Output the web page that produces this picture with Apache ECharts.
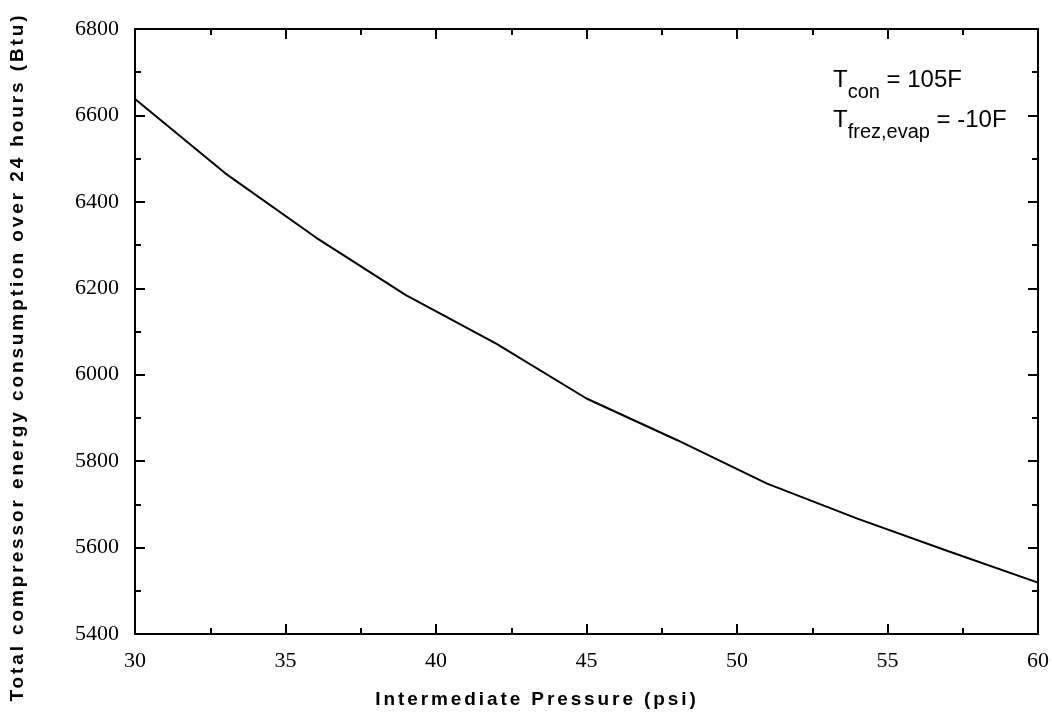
<!DOCTYPE html>
<html>
<head>
<meta charset="utf-8">
<script src="https://cdn.jsdelivr.net/npm/echarts/dist/echarts.min.js"></script>
<style>
  html, body { margin: 0; padding: 0; background: #fff; }
  #chart { width: 1052px; height: 717px; }
</style>
</head>
<body>
<div id="chart"></div>
<script>
// data
var pressure = [30, 33, 36, 39, 42, 45, 48, 51, 54, 57, 60];
var energy = [6638, 6466, 6318, 6184, 6072, 5945, 5849, 5748, 5667, 5592, 5519];
var xRange = [30, 60, 5];
var yRange = [5400, 6800, 200];
var xTitle = 'Intermediate Pressure (psi)';
var yTitle = 'Total compressor energy consumption over 24 hours (Btu)';
var noteLines = [['T', 'con', ' = 105F'], ['T', 'frez,evap', ' = -10F']];

var chart = echarts.init(document.getElementById('chart'));

// axis titles go on their own canvas layer, which gets wide letter spacing
var titleLayer = chart.getZr().painter.getLayer(1);
if (titleLayer && titleLayer.ctx) titleLayer.ctx.letterSpacing = '2.9px';

function makeAxis(range, position, showLabel) {
  return {
    type: 'value',
    position: position,
    min: range[0],
    max: range[1],
    interval: range[2],
    axisLine: { show: true, onZero: false, lineStyle: { color: '#000', width: 2 } },
    axisTick: { show: true, inside: true, length: 10, lineStyle: { color: '#000', width: 2 } },
    minorTick: { show: true, splitNumber: 2, length: 6, lineStyle: { color: '#000', width: 2 } },
    splitLine: { show: false },
    minorSplitLine: { show: false },
    axisLabel: {
      show: showLabel,
      margin: 16,
      color: '#000',
      fontFamily: 'Liberation Serif',
      fontSize: 22,
      formatter: function (v) { return String(v); }
    }
  };
}

// annotation text with subscripts
var noteRich = {
  m: { fontFamily: 'Liberation Sans', fontSize: 24, lineHeight: 26, verticalAlign: 'top', color: '#000' },
  s: { fontFamily: 'Liberation Sans', fontSize: 20, lineHeight: 20, padding: [14, 0, 0, 0], verticalAlign: 'top', color: '#000' }
};
var noteGraphics = noteLines.map(function (l, i) {
  return {
    type: 'text',
    x: 833,
    y: 68 + i * 40,
    style: {
      text: '{m|' + l[0] + '}{s|' + l[1] + '}{m|' + l[2] + '}',
      rich: noteRich
    }
  };
});

chart.setOption({
  animation: false,
  backgroundColor: '#fff',
  grid: { left: 135, right: 8, top: 29, bottom: 83, containLabel: false },
  xAxis: [makeAxis(xRange, 'bottom', true), makeAxis(xRange, 'top', false)],
  yAxis: [makeAxis(yRange, 'left', true), makeAxis(yRange, 'right', false)],
  series: [{
    type: 'line',
    data: pressure.map(function (p, i) { return [p, energy[i]]; }),
    showSymbol: false,
    smooth: false,
    lineStyle: { color: '#000', width: 2 }
  }],
  graphic: [
    {
      type: 'text',
      zlevel: 1,
      x: 18,
      y: 357,
      rotation: Math.PI / 2,
      style: {
        text: yTitle,
        fill: '#000',
        font: 'bold 19px "Liberation Sans"',
        align: 'center',
        verticalAlign: 'middle'
      }
    },
    {
      type: 'text',
      zlevel: 1,
      x: 537,
      y: 700,
      style: {
        text: xTitle,
        fill: '#000',
        font: 'bold 19px "Liberation Sans"',
        align: 'center',
        verticalAlign: 'middle'
      }
    }
  ].concat(noteGraphics)
});
</script>
</body>
</html>
